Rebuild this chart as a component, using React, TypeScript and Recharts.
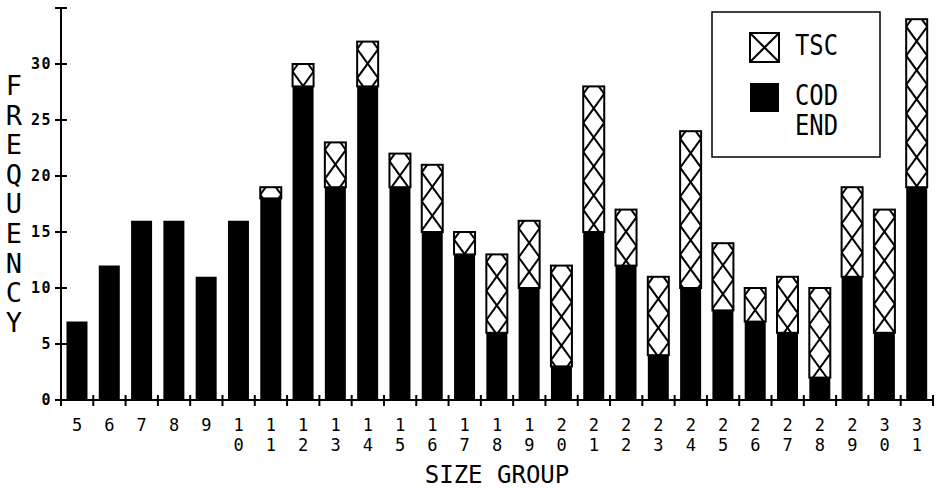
import { Bar, BarChart, XAxis, YAxis } from "recharts";

const sizeGroups = ["5", "6", "7", "8", "9", "10", "11", "12", "13", "14", "15", "16", "17", "18", "19", "20", "21", "22", "23", "24", "25", "26", "27", "28", "29", "30", "31"];
const codEnd = [7, 12, 16, 16, 11, 16, 18, 28, 19, 28, 19, 15, 13, 6, 10, 3, 15, 12, 4, 10, 8, 7, 6, 2, 11, 6, 19];
const tsc = [0, 0, 0, 0, 0, 0, 1, 2, 4, 4, 3, 6, 2, 7, 6, 9, 13, 5, 7, 14, 6, 3, 5, 8, 8, 11, 15];
const yTicks = [0, 5, 10, 15, 20, 25, 30, 35];
const yLabelTicks = [0, 5, 10, 15, 20, 25, 30];

const data = sizeGroups.map((name, i) => ({ name, cod: codEnd[i], tsc: tsc[i] }));

const W = 938;
const H = 490;
const LEFT = 61;
const RIGHT = 5;
const BAND = (W - LEFT - RIGHT) / sizeGroups.length;
const FONT = "'DejaVu Sans Mono', monospace";

// crossed-diagonal fill drawn inside each bar: an X every `period` px
const HatchBar = (props: any) => {
  const { x, y, width, height, index, period = 29, phase = 7.5 } = props;
  if (!height || height <= 0) return null;
  const lines = [];
  const n = Math.ceil(height / period) + 2;
  for (let k = -1; k < n; k++) {
    const y0 = y + phase + (k - 1) * period;
    lines.push(<line key={`a${k}`} x1={x} y1={y0} x2={x + width} y2={y0 + period} />);
    lines.push(<line key={`b${k}`} x1={x + width} y1={y0} x2={x} y2={y0 + period} />);
  }
  const id = `clip-tsc-${index}`;
  return (
    <g>
      <defs>
        <clipPath id={id}>
          <rect x={x} y={y} width={width} height={height} />
        </clipPath>
      </defs>
      <rect x={x} y={y} width={width} height={height} fill="#fff" />
      <g clipPath={`url(#${id})`} stroke="#000" strokeWidth={2}>
        {lines}
      </g>
      <rect x={x} y={y} width={width} height={height} fill="none" stroke="#000" strokeWidth={2} />
    </g>
  );
};

const XTick = (props: any) => {
  const { x, y, payload, index } = props;
  const chars = String(payload.value).split("");
  return (
    <g>
      <line x1={x - BAND / 2} y1={y - 5} x2={x - BAND / 2} y2={y + 6} stroke="#000" strokeWidth={2} />
      {index === sizeGroups.length - 1 && (
        <line x1={x + BAND / 2} y1={y - 5} x2={x + BAND / 2} y2={y + 6} stroke="#000" strokeWidth={2} />
      )}
      {chars.map((c, i) => (
        <text key={i} x={x} y={y + 31 + i * 20} textAnchor="middle" fontFamily={FONT} fontSize={17} fill="#000">
          {c}
        </text>
      ))}
    </g>
  );
};

const YTick = (props: any) => {
  const { x, y, payload } = props;
  const show = yLabelTicks.includes(payload.value);
  return (
    <g>
      <line x1={x - 6} y1={y} x2={x + 6} y2={y} stroke="#000" strokeWidth={2} />
      {show && (
        <text x={x - 9} y={y} dy={5} textAnchor="end" fontFamily={FONT} fontWeight="bold" fontSize={15} letterSpacing={1.5} fill="#000">
          {payload.value}
        </text>
      )}
    </g>
  );
};

const FreqLabel = () => (
  <g>
    {"FREQUENCY".split("").map((c, i) => (
      <text key={i} x={14} y={95 + i * 29.6} textAnchor="middle" fontFamily={FONT} fontSize={27} fill="#000">
        {c}
      </text>
    ))}
  </g>
);

const SizeLabel = () => (
  <text x={(LEFT + W - RIGHT) / 2} y={483} textAnchor="middle" fontFamily={FONT} fontSize={24} fill="#000">
    SIZE GROUP
  </text>
);

const LegendBox = () => (
  <svg width={170} height={148} style={{ position: "absolute", left: 711, top: 11 }}>
    <rect x={1} y={1} width={168} height={145} fill="#fff" stroke="#000" strokeWidth={1.5} />
    <HatchBar x={39} y={22} width={29} height={29} index="legend" period={29} phase={0} />
    <rect x={39} y={72} width={29} height={29} fill="#000" />
    <text x={84} y={44} fontFamily={FONT} fontSize={28} textLength={43} lengthAdjust="spacingAndGlyphs" fill="#000">TSC</text>
    <text x={84} y={94} fontFamily={FONT} fontSize={28} textLength={43} lengthAdjust="spacingAndGlyphs" fill="#000">COD</text>
    <text x={84} y={124} fontFamily={FONT} fontSize={28} textLength={43} lengthAdjust="spacingAndGlyphs" fill="#000">END</text>
  </svg>
);

export default function App() {
  return (
    <div style={{ position: "absolute", left: 0, top: 0, width: W, height: H, background: "#fff" }}>
      <BarChart width={W} height={H} data={data} margin={{ top: 8, right: RIGHT, bottom: 0, left: 0 }} barCategoryGap="17%">
        <XAxis
          dataKey="name"
          height={90}
          tickSize={0}
          tickMargin={0}
          tick={<XTick />}
          interval={0}
          axisLine={{ stroke: "#000", strokeWidth: 2 }}
          label={<SizeLabel />}
        />
        <YAxis
          width={LEFT}
          domain={[0, 35]}
          ticks={yTicks}
          interval={0}
          tickSize={0}
          tickMargin={0}
          tick={<YTick />}
          axisLine={{ stroke: "#000", strokeWidth: 2 }}
          label={<FreqLabel />}
        />
        <Bar dataKey="cod" stackId="a" fill="#000" isAnimationActive={false} />
        <Bar dataKey="tsc" stackId="a" shape={<HatchBar />} isAnimationActive={false} />
      </BarChart>
      <LegendBox />
    </div>
  );
}
